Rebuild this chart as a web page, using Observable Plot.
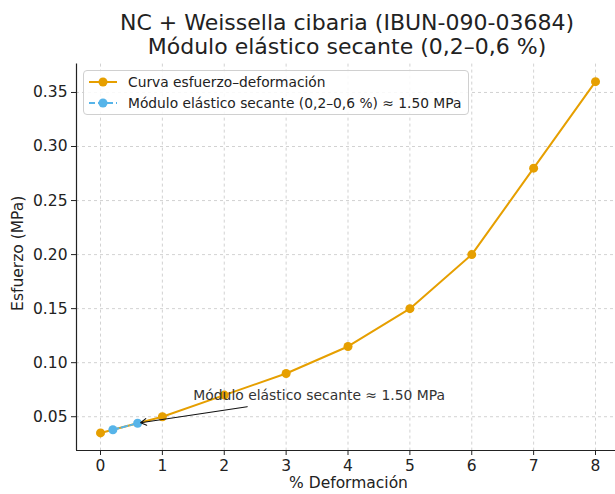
<!DOCTYPE html>
<html>
<head>
<meta charset="utf-8">
<script src="https://cdn.jsdelivr.net/npm/d3@7"></script>
<script src="https://cdn.jsdelivr.net/npm/@observablehq/plot@0.6"></script>
<style>
  html, body { margin: 0; padding: 0; background: #fff; }
  body { width: 615px; height: 494px; overflow: hidden; font-family: "DejaVu Sans", sans-serif; color: #222; }
  #wrap { position: relative; width: 615px; height: 494px; }
  #title { position: absolute; left: 47px; width: 600px; top: 11px; text-align: center; font-size: 22px; line-height: 24px; color: #222; white-space: nowrap; }
  #chart { position: absolute; left: 0; top: 60px; }
  #legend { position: absolute; left: 83px; top: 70px; width: 386px; height: 45px; box-sizing: border-box;
    border: 1px solid #d0d0d0; border-radius: 4px; background: rgba(255,255,255,0.85); font-size: 13.8px; color: #222; }
  .row { position: absolute; left: 4px; height: 20px; display: flex; align-items: center; white-space: nowrap; }
  .row svg { margin-right: 10px; }
</style>
</head>
<body>
<div id="wrap">
  <div id="title">NC + Weissella cibaria (IBUN-090-03684)<br>Módulo elástico secante (0,2–0,6 %)</div>
  <div id="chart"></div>
  <div id="legend">
    <div class="row" style="top:1px"><svg width="30" height="12"><line x1="1" y1="6" x2="29" y2="6" stroke="#E69F00" stroke-width="2"/><circle cx="15" cy="6" r="4.5" fill="#E69F00"/></svg><span id="lg1"></span></div>
    <div class="row" style="top:22px"><svg width="30" height="12"><line x1="1" y1="6" x2="29" y2="6" stroke="#56B4E9" stroke-width="2" stroke-dasharray="6,3"/><circle cx="15" cy="6" r="4.5" fill="#56B4E9"/></svg><span id="lg2"></span></div>
  </div>
</div>
<script>
// ---- data ----
const deformation = [0, 1, 2, 3, 4, 5, 6, 7, 8];
const stress = [0.035, 0.05, 0.07, 0.09, 0.115, 0.15, 0.20, 0.28, 0.36];
const secantX = [0.2, 0.6];
const secantY = [0.038, 0.044];
const xTicks = [0, 1, 2, 3, 4, 5, 6, 7, 8];
const yTicks = [0.05, 0.10, 0.15, 0.20, 0.25, 0.30, 0.35];
const seriesNames = ["Curva esfuerzo–deformación", "Módulo elástico secante (0,2–0,6 %) ≈ 1.50 MPa"];
const annotationText = "Módulo elástico secante ≈ 1.50 MPa";
const annotationPos = [1.5, 0.0694];
const arrowFrom = [2.37, 0.0593];
const arrowTo = [0.6, 0.044];
const xLabel = "% Deformación";
const yLabel = "Esfuerzo (MPa)";

document.getElementById("lg1").textContent = seriesNames[0];
document.getElementById("lg2").textContent = seriesNames[1];

const curve = deformation.map((x, i) => ({x, y: stress[i]}));
const secant = secantX.map((x, i) => ({x, y: secantY[i]}));

const orange = "#E69F00", blue = "#56B4E9", ink = "#222";
const xDomain = [-0.388, 8.323];
const yDomain = [0.01875, 0.37625];

const chart = Plot.plot({
  width: 615,
  height: 434,
  marginLeft: 76,
  marginRight: 0,
  marginTop: 3.6,
  marginBottom: 44,
  style: {fontFamily: "DejaVu Sans, sans-serif", fontSize: "15.5px", color: ink, background: "transparent", overflow: "visible"},
  x: {domain: xDomain, ticks: xTicks},
  y: {domain: yDomain, ticks: yTicks},
  marks: [
    Plot.gridX(xTicks, {stroke: "#b8b8b8", strokeOpacity: 0.8, strokeDasharray: "3,3", strokeWidth: 0.8}),
    Plot.gridY(yTicks, {stroke: "#b8b8b8", strokeOpacity: 0.8, strokeDasharray: "3,3", strokeWidth: 0.8}),
    Plot.axisX(xTicks, {tickSize: 5, tickPadding: 4, label: null, stroke: ink, fill: ink, fontSize: 15.5}),
    Plot.axisY(yTicks, {tickSize: 5, tickPadding: 4, label: null, tickFormat: d3.format(".2f"), stroke: ink, fill: ink, fontSize: 15.5}),
    Plot.ruleX([xDomain[0]], {stroke: ink, strokeWidth: 1.2}),
    Plot.ruleY([yDomain[0]], {stroke: ink, strokeWidth: 1.2}),
    Plot.line(curve, {x: "x", y: "y", stroke: orange, strokeWidth: 2}),
    Plot.dot(curve, {x: "x", y: "y", r: 4.5, fill: orange}),
    Plot.line(secant, {x: "x", y: "y", stroke: blue, strokeWidth: 2, strokeDasharray: "6,3"}),
    Plot.dot(secant, {x: "x", y: "y", r: 4.5, fill: blue}),
    Plot.arrow([{x1: arrowFrom[0], y1: arrowFrom[1], x2: arrowTo[0], y2: arrowTo[1]}],
      {x1: "x1", y1: "y1", x2: "x2", y2: "y2", stroke: "#111", strokeWidth: 1.1, headLength: 9, insetEnd: 3}),
    Plot.text([annotationText], {x: annotationPos[0], y: annotationPos[1], text: d => d, textAnchor: "start", lineAnchor: "middle", fontSize: 13.9, fill: "#333"}),
    Plot.text([xLabel], {frameAnchor: "bottom", text: d => d, textAnchor: "middle", lineAnchor: "middle", dx: 2.5, dy: 33, fontSize: 15.5, fill: ink}),
    Plot.text([yLabel], {frameAnchor: "left", text: d => d, textAnchor: "middle", lineAnchor: "middle", rotate: -90, dx: -58, dy: -4, fontSize: 15.5, fill: ink})
  ]
});
document.getElementById("chart").appendChild(chart);
</script>
</body>
</html>
